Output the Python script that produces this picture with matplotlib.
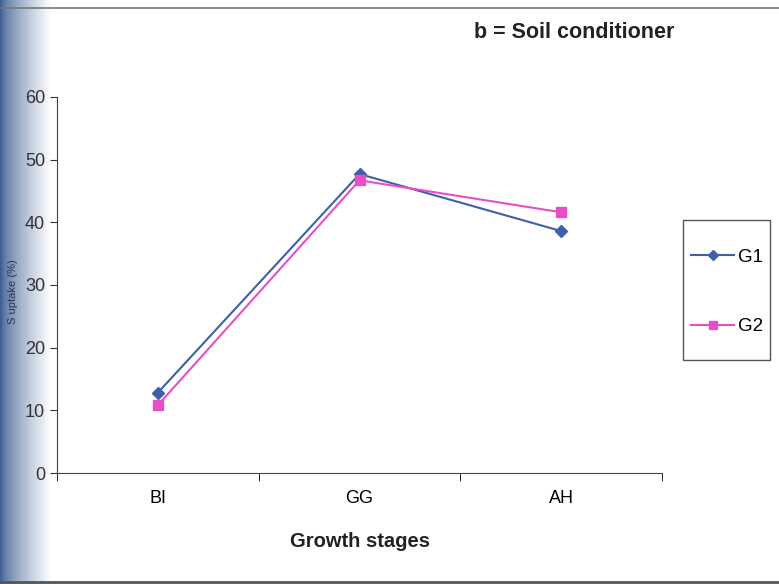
import matplotlib.pyplot as plt
from matplotlib.patches import Rectangle
import numpy as np

stages = ['BI', 'GG', 'AH']
g1 = [12.8, 47.7, 38.6]
g2 = [10.8, 46.7, 41.6]

plt.rcParams['font.family'] = ['Liberation Sans', 'DejaVu Sans']

W, H = 779, 584
fig = plt.figure(figsize=(W / 100, H / 100), dpi=100)

# photographed slide: dark blue strip on the left edge
bg = fig.add_axes([0, 0, 1, 1], zorder=-1)
grad = np.ones((10, 400, 3))
t = np.linspace(0, 1, 400)
fade = np.clip(t / 0.065, 0, 1) ** 0.7
for k, c in enumerate([0.25, 0.38, 0.58]):
    grad[:, :, k] = c + (1 - c) * fade
bg.imshow(grad, aspect='auto', extent=[0, 1, 0, 1])
bg.axhline(0.987, color='#777777', lw=1.2)
bg.axhline(0.004, color='#555555', lw=2)
bg.set_xlim(0, 1)
bg.set_ylim(0, 1)
bg.axis('off')

ax = fig.add_axes([0.073, 0.19, 0.777, 0.644])
ax.patch.set_alpha(0)
x = np.arange(1, len(stages) + 1)
ax.plot(x, g1, color='#3f5fa8', marker='D', markersize=6, lw=1.5, label='G1')
ax.plot(x, g2, color='#e64fc8', marker='s', markersize=7, lw=1.5, label='G2')

ax.set_xlim(0.5, 3.5)
ax.set_ylim(0, 60)
ax.set_yticks(range(0, 61, 10))
ax.set_xticks(x)
ax.set_xticklabels(stages)
ax.set_xticks([0.5, 1.5, 2.5, 3.5], minor=True)
ax.tick_params(axis='x', which='major', length=0, pad=12, labelsize=13)
ax.tick_params(axis='x', which='minor', length=6, direction='out')
ax.tick_params(axis='y', length=5, direction='out', labelsize=13, colors='#333333')
for s in ['top', 'right']:
    ax.spines[s].set_visible(False)
for s in ['left', 'bottom']:
    ax.spines[s].set_color('#444444')

ax.set_xlabel('Growth stages', fontsize=14.5, fontweight='bold', labelpad=18, color='#222222')
fig.text(0.01, 0.5, 'S uptake (%)', rotation=90, fontsize=8, color='#2a3550',
         va='center', ha='left')
fig.text(0.737, 0.945, 'b = Soil conditioner', fontsize=15.5, fontweight='bold',
         ha='center', va='center', color='#222222')

# legend box drawn by hand, entries placed inside it
fig.patches.append(Rectangle((683 / W, 1 - 360 / H), 87 / W, 140 / H,
                             transform=fig.transFigure, fill=False,
                             edgecolor='#555555', lw=1.0))
leg = fig.legend(*ax.get_legend_handles_labels(), loc='center',
                 bbox_to_anchor=(727 / W, 1 - 292 / H), frameon=False,
                 fontsize=13.5, labelspacing=2.8, handlelength=2.3,
                 handletextpad=0.2, borderpad=0, markerscale=0.85)

fig.savefig('out.png', dpi=100)
